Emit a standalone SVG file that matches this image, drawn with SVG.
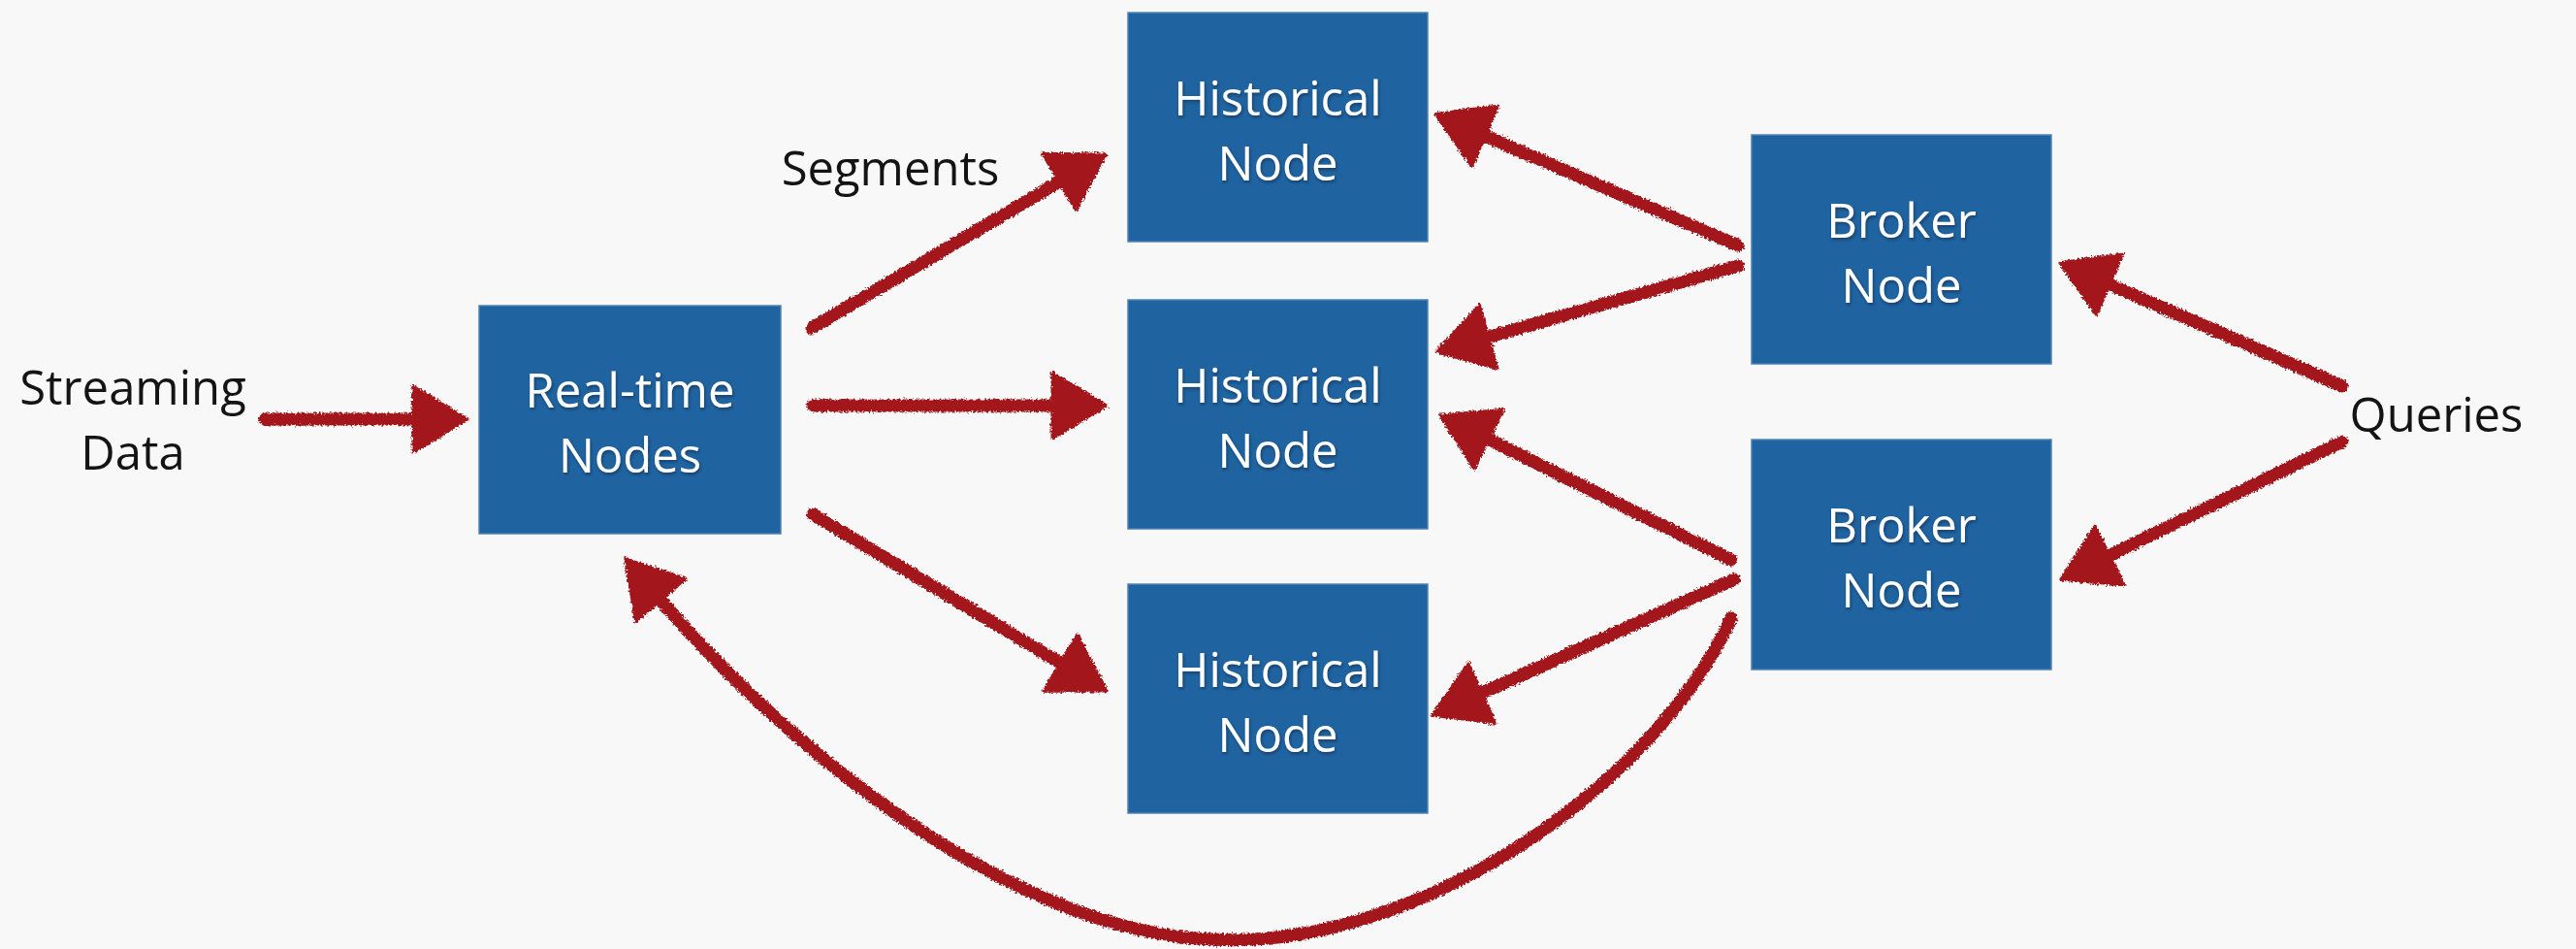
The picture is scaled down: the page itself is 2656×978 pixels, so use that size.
<svg xmlns="http://www.w3.org/2000/svg" width="2656" height="978" viewBox="0 0 2656 978">
  <style>
    .box { fill: #1f63a0; stroke: #4f82b4; stroke-width: 1.5; }
    .boxlabel { font-family: "Open Sans", "Liberation Sans", sans-serif; font-size: 49px; fill: #ffffff; text-anchor: middle; filter: url(#textShadow); }
    .label { font-family: "Open Sans", "Liberation Sans", sans-serif; font-size: 49px; fill: #141414; text-anchor: middle; }
    .wire { fill: none; stroke: #a3161c; stroke-width: 13; stroke-linecap: round; marker-end: url(#head); }
  </style>
  <defs>
    <filter id="textShadow" x="-10%" y="-20%" width="120%" height="150%">
      <feDropShadow dx="1" dy="2" stdDeviation="1.4" flood-color="#0b2035" flood-opacity="0.55"/>
    </filter>
    <!-- rough crayon edge for the hand-drawn arrows -->
    <filter id="crayon" filterUnits="userSpaceOnUse" x="0" y="0" width="2656" height="978">
      <feTurbulence type="fractalNoise" baseFrequency="0.45" numOctaves="2" seed="7" result="noise"/>
      <feDisplacementMap in="SourceGraphic" in2="noise" scale="6" xChannelSelector="R" yChannelSelector="G" result="rough"/>
      <feGaussianBlur in="rough" stdDeviation="0.6"/>
    </filter>
    <marker id="head" markerUnits="userSpaceOnUse" viewBox="0 -34 58 68" refX="2" refY="0" markerWidth="58" markerHeight="68" orient="auto" overflow="visible">
      <path d="M0,-34 L56,0 L0,34 Z" fill="#a3161c" stroke="#a3161c" stroke-width="3" stroke-linejoin="round"/>
    </marker>
  </defs>

  <rect width="2656" height="978" fill="#f8f8f8"/>

  <g id="connectors" filter="url(#crayon)">
    <path class="wire" d="M273,432 L428,432"/>
    <path class="wire" d="M837,338 L1093.8,186.5"/>
    <path class="wire" d="M838,418 L1087,418"/>
    <path class="wire" d="M838,530 L1095,684.2"/>
    <path class="wire" d="M1792,253 L1529.4,139.3"/>
    <path class="wire" d="M1792,274 L1532.9,347.7"/>
    <path class="wire" d="M1785,577 L1533.2,451.9"/>
    <path class="wire" d="M1788,597 L1526.1,715"/>
    <path class="wire" d="M2415,398 L2173.3,292.4"/>
    <path class="wire" d="M2415,455 L2173.3,573.4"/>
    <path class="wire" d="M1785,637 C1700,820 1450,980 1250,968 C1050,962 820,780 680,617"/>
  </g>

  <g id="streaming-data">
    <text class="label" x="137" y="417">Streaming</text>
    <text class="label" x="137" y="484">Data</text>
  </g>

  <g id="segments-label">
    <text class="label" x="918" y="191">Segments</text>
  </g>

  <g id="queries">
    <text class="label" x="2512" y="445">Queries</text>
  </g>

  <g id="realtime-nodes">
    <rect class="box" x="494" y="315" width="311" height="235"/>
    <text class="boxlabel" x="649.5" y="420">Real-time</text>
    <text class="boxlabel" x="649.5" y="487">Nodes</text>
  </g>

  <g id="historical-node-1">
    <rect class="box" x="1163" y="13" width="309" height="236"/>
    <text class="boxlabel" x="1317.5" y="119">Historical</text>
    <text class="boxlabel" x="1317.5" y="186">Node</text>
  </g>

  <g id="historical-node-2">
    <rect class="box" x="1163" y="309" width="309" height="236"/>
    <text class="boxlabel" x="1317.5" y="415">Historical</text>
    <text class="boxlabel" x="1317.5" y="482">Node</text>
  </g>

  <g id="historical-node-3">
    <rect class="box" x="1163" y="602" width="309" height="236"/>
    <text class="boxlabel" x="1317.5" y="708">Historical</text>
    <text class="boxlabel" x="1317.5" y="775">Node</text>
  </g>

  <g id="broker-node-1">
    <rect class="box" x="1806" y="139" width="309" height="236"/>
    <text class="boxlabel" x="1960.5" y="245">Broker</text>
    <text class="boxlabel" x="1960.5" y="312">Node</text>
  </g>

  <g id="broker-node-2">
    <rect class="box" x="1806" y="453" width="309" height="237"/>
    <text class="boxlabel" x="1960.5" y="559">Broker</text>
    <text class="boxlabel" x="1960.5" y="626">Node</text>
  </g>
</svg>
